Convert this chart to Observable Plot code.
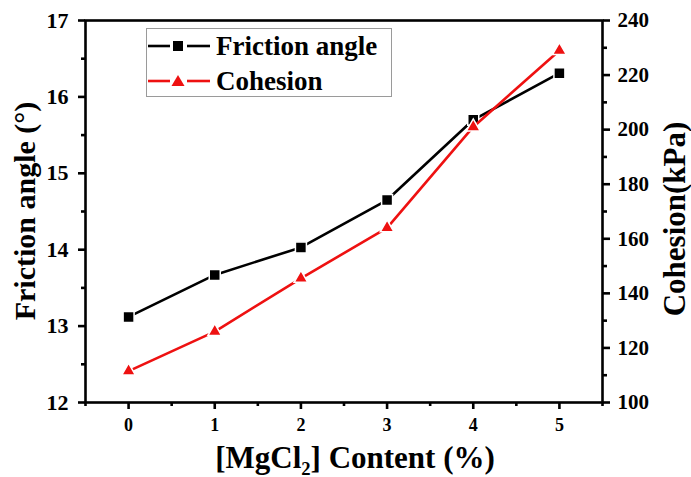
<!DOCTYPE html>
<html>
<head>
<meta charset="utf-8">
<script src="https://cdn.jsdelivr.net/npm/d3@7"></script>
<script src="https://cdn.jsdelivr.net/npm/@observablehq/plot@0.6"></script>
<style>
  body { margin: 0; background: #fff; }
  #wrap { position: relative; width: 691px; height: 477px; font-family: "Liberation Serif", Tinos, "Times New Roman", Times, "Nimbus Roman", "DejaVu Serif", serif; font-weight: bold; color: #000; }
  #wrap svg { display: block; }
  .title { position: absolute; white-space: nowrap; transform: translate(-50%, -50%); }
  .vtitle { position: absolute; white-space: nowrap; transform: translate(-50%, -50%) rotate(-90deg); }
  .legend { position: absolute; left: 146px; top: 28px; width: 246px; height: 69px; border: 1px solid #9a9a9a; box-sizing: border-box; background: #fff; }
  .legend .row { position: absolute; left: 0; display: flex; align-items: center; height: 30px; }
  .legend svg { display: block; }
  .legend span { font-size: 27px; margin-left: 5px; line-height: 30px; }
  sub { font-size: 60%; vertical-align: -0.35em; line-height: 0; }
</style>
</head>
<body>
<div id="wrap"></div>
<script>
// ---- data ----
const contentPct = [0, 1, 2, 3, 4, 5];
const frictionAngle = [13.12, 13.67, 14.03, 14.65, 15.70, 16.31];
const cohesionKPa = [111.5, 126, 145.5, 164, 201, 229];

const xTickValues = [0, 1, 2, 3, 4, 5];
const xMinorTicks = [-0.5, 0.5, 1.5, 2.5, 3.5, 4.5, 5.5];
const leftTickValues = [12, 13, 14, 15, 16, 17];
const leftMinorTicks = [12.5, 13.5, 14.5, 15.5, 16.5];
const rightTickValues = [100, 120, 140, 160, 180, 200, 220, 240];
const rightMinorTicks = [110, 130, 150, 170, 190, 210, 230];

const seriesNames = ["Friction angle", "Cohesion"];
const seriesColors = ["#000000", "#ee1111"];

const FONT = "'Liberation Serif', Tinos, 'Times New Roman', Times, 'Nimbus Roman', 'DejaVu Serif', serif";

// right axis (cohesion 100–240) mapped onto left scale (12–17)
const toLeft = c => 12 + (c - 100) * 5 / 140;
const fromLeft = f => String(Math.round(100 + (f - 12) * 140 / 5));
const intFmt = d => String(Math.round(d));

const rows = contentPct.map((x, i) => ({ x, f: frictionAngle[i], c: toLeft(cohesionKPa[i]) }));

const sw = 2.6;
const chart = Plot.plot({
  width: 691,
  height: 477,
  marginLeft: 85,
  marginRight: 89,
  marginTop: 20,
  marginBottom: 75,
  x: { domain: [-0.5, 5.5] },
  y: { domain: [12, 17] },
  style: { fontFamily: FONT, fontWeight: "bold", color: "#000", background: "#fff" },
  marks: [
    Plot.axisX({ ticks: xTickValues, tickFormat: intFmt, tickSize: 7, tickPadding: 9, fontSize: 18, strokeWidth: sw, label: null }),
    Plot.axisX({ ticks: xMinorTicks, tickSize: 4, tickFormat: () => "", strokeWidth: sw, label: null }),
    Plot.axisY({ ticks: leftTickValues, tickFormat: intFmt, tickSize: 7, tickPadding: 10, fontSize: 22, strokeWidth: sw, label: null }),
    Plot.axisY({ ticks: leftMinorTicks, tickSize: 4, tickFormat: () => "", strokeWidth: sw, label: null }),
    Plot.axisY({ anchor: "right", ticks: rightTickValues.map(toLeft), tickFormat: fromLeft, tickSize: 7, tickPadding: 8, fontSize: 21, strokeWidth: sw, label: null }),
    Plot.axisY({ anchor: "right", ticks: rightMinorTicks.map(toLeft), tickFormat: () => "", tickSize: 4, strokeWidth: sw, label: null }),
    Plot.frame({ stroke: "#000", strokeWidth: sw }),
    Plot.line(rows, { x: "x", y: "f", stroke: seriesColors[0], strokeWidth: 2.6 }),
    Plot.dot(rows, { x: "x", y: "f", symbol: "square", r: 6.2, fill: seriesColors[0], stroke: "#fff", strokeWidth: 1.5 }),
    Plot.line(rows, { x: "x", y: "c", stroke: seriesColors[1], strokeWidth: 2.6 }),
    Plot.dot(rows, { x: "x", y: "c", symbol: "triangle", r: 5.1, fill: seriesColors[1], stroke: "#fff", strokeWidth: 1.5 })
  ]
});

const wrap = document.getElementById("wrap");
wrap.appendChild(chart);

// axis titles
const leftTitle = document.createElement("div");
leftTitle.className = "vtitle";
leftTitle.style.left = "25px"; leftTitle.style.top = "211px"; leftTitle.style.fontSize = "30px";
leftTitle.textContent = "Friction angle (°)";
wrap.appendChild(leftTitle);

const rightTitle = document.createElement("div");
rightTitle.className = "vtitle";
rightTitle.style.left = "675px"; rightTitle.style.top = "219px"; rightTitle.style.fontSize = "31px";
rightTitle.textContent = "Cohesion(kPa)";
wrap.appendChild(rightTitle);

const xTitle = document.createElement("div");
xTitle.className = "title";
xTitle.style.left = "355px"; xTitle.style.top = "458px"; xTitle.style.fontSize = "31px";
xTitle.innerHTML = "[MgCl<sub>2</sub>] Content (%)";
wrap.appendChild(xTitle);

// legend
const legend = document.createElement("div");
legend.className = "legend";
const symbols = [
  '<rect x="26" y="10" width="10" height="10" fill="' + seriesColors[0] + '"/>',
  '<path d="M31,9 L37.5,20 L24.5,20 Z" fill="' + seriesColors[1] + '"/>'
];
seriesNames.forEach((name, i) => {
  const row = document.createElement("div");
  row.className = "row";
  row.style.top = (i === 0 ? 2 : 37) + "px";
  row.innerHTML =
    '<svg width="64" height="30"><line x1="1" y1="15" x2="23" y2="15" stroke="' + seriesColors[i] + '" stroke-width="2.6"/>' +
    '<line x1="40" y1="15" x2="63" y2="15" stroke="' + seriesColors[i] + '" stroke-width="2.6"/>' + symbols[i] + '</svg>' +
    '<span>' + name + '</span>';
  legend.appendChild(row);
});
wrap.appendChild(legend);
</script>
</body>
</html>
